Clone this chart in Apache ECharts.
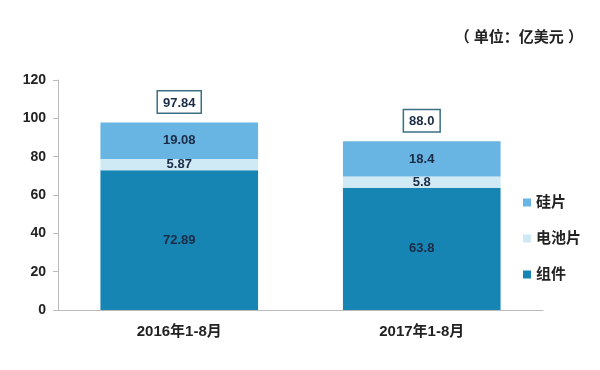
<!DOCTYPE html>
<html><head><meta charset="utf-8">
<script src="https://cdn.jsdelivr.net/npm/echarts@6/dist/echarts.min.js"></script>
<style>html,body{margin:0;padding:0;background:#fff}#c{width:600px;height:370px}</style>
</head><body><div id="c"></div>
<script>
var categories = ['2016年1-8月', '2017年1-8月'];
var modules = [72.89, 63.8];      // 组件
var cells = [5.87, 5.8];          // 电池片
var wafers = [19.08, 18.4];       // 硅片
var totals = ['97.84', '88.0'];
var totalValues = [97.84, 88.0];
var yTicks = [0, 20, 40, 60, 80, 100, 120];

var font = '"Liberation Sans", Arial, "Noto Sans CJK SC", sans-serif';
var chart = echarts.init(document.getElementById('c'));
var inLabel = {show: true, position: 'inside', fontFamily: font, fontWeight: 'bold', fontSize: 13, color: '#1b2b45'};
chart.setOption({
  animation: false,
  textStyle: {fontFamily: font},
  grid: {left: 58, right: 57, top: 80, bottom: 60},
  title: {text: '（ 单位：亿美元 ）', right: 12, top: 25,
    textStyle: {fontFamily: font, fontWeight: 'bold', fontSize: 15, color: '#222'}},
  legend: {orient: 'vertical', left: 518, top: 190, itemGap: 21, icon: 'rect', itemWidth: 8, itemHeight: 8,
    data: ['硅片', '电池片', '组件'],
    textStyle: {fontFamily: font, fontWeight: 'bold', fontSize: 15, color: '#222'}},
  xAxis: {type: 'category', data: categories,
    axisLine: {lineStyle: {color: '#bbb'}}, axisTick: {show: false},
    axisLabel: {fontFamily: font, fontWeight: 'bold', fontSize: 15, color: '#222', margin: 14}},
  yAxis: {type: 'value', min: yTicks[0], max: yTicks[yTicks.length - 1], interval: 20,
    splitLine: {show: false},
    axisLine: {show: true, lineStyle: {color: '#bbb'}},
    axisTick: {show: true, length: 5, lineStyle: {color: '#bbb'}},
    axisLabel: {fontFamily: font, fontWeight: 'bold', fontSize: 14, color: '#222', margin: 12}},
  series: [
    {name: '组件', type: 'bar', stack: 's', barWidth: '65%', data: modules,
      itemStyle: {color: '#1785b3'}, label: inLabel},
    {name: '电池片', type: 'bar', stack: 's', data: cells,
      itemStyle: {color: '#cfeaf5'}, label: inLabel},
    {name: '硅片', type: 'bar', stack: 's', data: wafers,
      itemStyle: {color: '#68b4e2'}, label: inLabel},
    {name: '合计', type: 'bar', barGap: '-100%', barWidth: '65%', z: 1, data: totalValues,
      itemStyle: {color: 'rgba(0,0,0,0)'}, tooltip: {show: false},
      label: {show: true, position: 'top', distance: 10,
        formatter: function (p) { return totals[p.dataIndex]; },
        fontFamily: font, fontWeight: 'bold', fontSize: 13, color: '#1b2b45',
        borderColor: '#3b6f86', borderWidth: 1.5, padding: [5, 5, 3, 5], backgroundColor: '#fff'}}
  ]
});
</script></body></html>
